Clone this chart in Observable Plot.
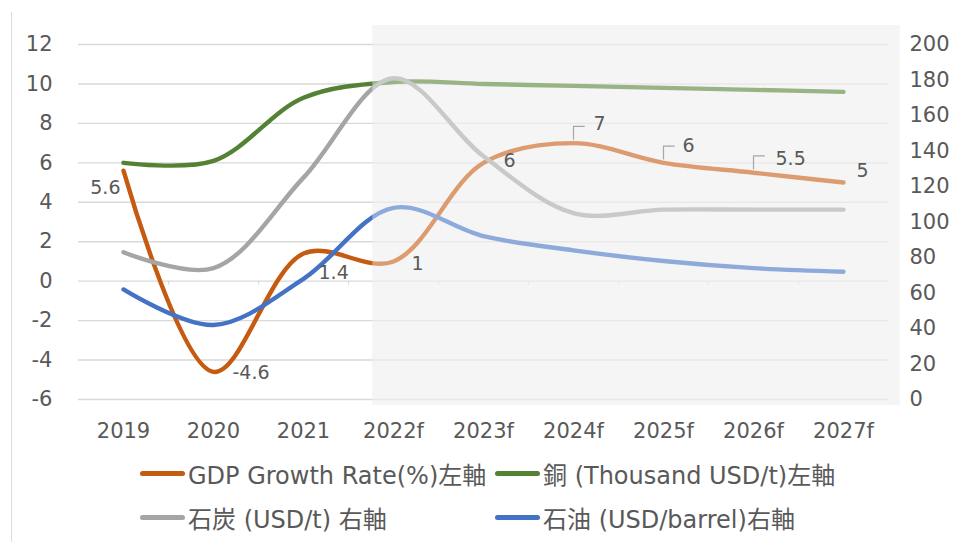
<!DOCTYPE html>
<html>
<head>
<meta charset="utf-8">
<script src="https://cdn.jsdelivr.net/npm/d3@7"></script>
<script src="https://cdn.jsdelivr.net/npm/@observablehq/plot@0.6"></script>
<style>
  html, body { margin: 0; padding: 0; background: #fff; }
  #wrap { position: relative; width: 953px; height: 542px; overflow: hidden; font-family: "DejaVu Sans", "Noto Sans CJK JP", sans-serif; }
  #edge { position: absolute; left: 11px; top: 12px; width: 1px; height: 530px; background: #dcdcdc; }
  #chart { position: absolute; left: 0; top: 0; }
  .lg { position: absolute; display: flex; align-items: center; font-size: 24px; color: #595959; white-space: nowrap; font-family: "DejaVu Sans", "Noto Sans CJK JP", sans-serif; }
  .sw { display: inline-block; width: 45px; height: 5px; border-radius: 3px; margin-right: 3px; }
</style>
</head>
<body>
<div id="wrap">
  <div id="edge"></div>
  <div id="chart"></div>
  <div id="legend"></div>
</div>
<script>
// ---- data ----
const years = ["2019", "2020", "2021", "2022f", "2023f", "2024f", "2025f", "2026f", "2027f"];
const gdp = [5.6, -4.6, 1.4, 1, 6, 7, 6, 5.5, 5];               // left axis
const copper = [6.0, 6.1, 9.3, 10.1, 10.0, 9.9, 9.8, 9.7, 9.6];  // left axis
const coal = [83, 74, 125, 181, 137, 105, 107, 107, 107];        // right axis
const oil = [62, 42, 68, 108, 92, 84, 78, 74, 72];               // right axis
const leftTicks = [-6, -4, -2, 0, 2, 4, 6, 8, 10, 12];
const rightTicks = [0, 20, 40, 60, 80, 100, 120, 140, 160, 180, 200];
const seriesNames = ["GDP Growth Rate(%)左軸", "銅 (Thousand USD/t)左軸", "石炭 (USD/t) 右軸", "石油 (USD/barrel)右軸"];
const forecastFrom = "2022f";

// ---- styling ----
const colors = ["#c55a11", "#548235", "#a5a5a5", "#4472c4"];
const textColor = "#595959";
const gridColor = "#d9d9d9";

// right axis (0..200) mapped onto left axis (-6..12)
const toLeft = v => -6 + v * 18 / 200;
const fromLeft = y => (y + 6) * 200 / 18;

const rows = (arr, conv = d => d) => arr.map((v, i) => ({i, v: conv(v), raw: v}));
const seriesRows = [rows(gdp), rows(copper), rows(coal, toLeft), rows(oil, toLeft)];

// label placement (pixels) for GDP data labels: [dx, dy, anchor]
const labelStyle = [[-3, 17, "end"], [19, 1, "start"], [15, 19, "start"], [18, 2, "start"],
                    [20, -2, "start"], [20, -19, "start"], [19, -17, "start"], [22, -14, "start"], [13, -12, "start"]];
const leaderIdx = [5, 6, 7];

const fi = years.indexOf(forecastFrom);
const shade = [{x1: fi - 0.23, x2: years.length - 0.37, y1: -6.3, y2: 12.96}];

const marks = [
  Plot.rect(shade, {x1: "x1", x2: "x2", y1: "y1", y2: "y2", fill: "#efefef"}),
  Plot.ruleY(leftTicks, {stroke: gridColor, strokeWidth: 1.4}),
  Plot.ruleX(d3.range(years.length - 1).map(i => i + 0.5), {y1: 0, y2: -0.2, stroke: gridColor, strokeWidth: 1.2}),
  ...seriesRows.map((r, k) => Plot.line(r, {x: "i", y: "v", stroke: colors[k], strokeWidth: 4.4, curve: "catmull-rom", strokeLinecap: "round"})),
  Plot.rect(shade, {x1: "x1", x2: "x2", y1: "y1", y2: "y2", fill: "#ffffff", fillOpacity: 0.4}),
  ...leaderIdx.map(i => Plot.line([
      {x: i, y: gdp[i] + 0.2}, {x: i, y: gdp[i] + 0.85}, {x: i + 0.12, y: gdp[i] + 0.85}
    ], {x: "x", y: "y", stroke: "#a6a6a6", strokeWidth: 1.2})),
  ...gdp.map((v, i) => Plot.text([{i, v}], {
      x: "i", y: "v", text: d => String(d.v), dx: labelStyle[i][0], dy: labelStyle[i][1],
      textAnchor: labelStyle[i][2], fill: textColor, fontSize: 19
    })),
  Plot.axisX({ticks: d3.range(years.length), tickFormat: i => years[i], tickSize: 0, tickPadding: 24, fontSize: 21, fill: textColor}),
  Plot.axisY({anchor: "left", ticks: leftTicks, tickFormat: d => String(d), tickSize: 0, tickPadding: 26, fontSize: 21, fill: textColor, label: null}),
  Plot.axisY({anchor: "right", ticks: rightTicks.map(toLeft), tickFormat: y => String(Math.round(fromLeft(y))), tickSize: 0, tickPadding: 21, fontSize: 21, fill: textColor, label: null, textAnchor: "start"})
];

const chart = Plot.plot({
  width: 953, height: 450,
  marginLeft: 78, marginRight: 65, marginTop: 44, marginBottom: 51,
  x: {domain: [-0.5, years.length - 0.5], axis: null},
  y: {domain: [-6, 12], axis: null},
  style: {fontFamily: '"DejaVu Sans", "Noto Sans CJK JP", sans-serif', background: "transparent", color: textColor, overflow: "visible"},
  marks
});
document.getElementById("chart").appendChild(chart);

// ---- legend ----
const legendPos = [[140, 473], [495, 473], [140, 517], [495, 517]];
const lg = document.getElementById("legend");
seriesNames.forEach((name, k) => {
  const d = document.createElement("div");
  d.className = "lg";
  d.style.left = legendPos[k][0] + "px";
  d.style.top = (legendPos[k][1] - 15) + "px";
  d.style.height = "30px";
  const s = document.createElement("span");
  s.className = "sw";
  s.style.background = colors[k];
  d.appendChild(s);
  d.appendChild(document.createTextNode(name));
  lg.appendChild(d);
});
</script>
</body>
</html>
